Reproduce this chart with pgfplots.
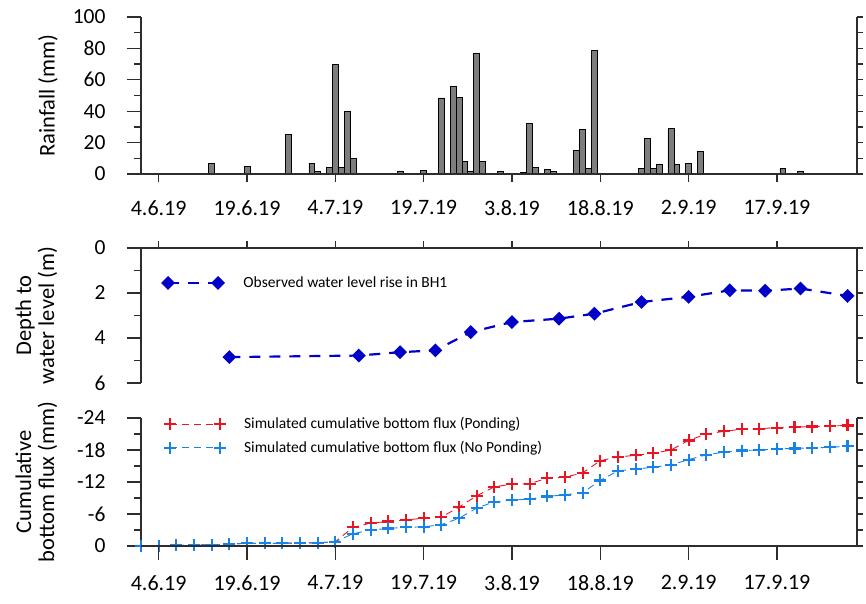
\documentclass[border=0pt]{standalone}
\usepackage{pgfplots}
\pgfplotsset{compat=1.18}
\usepackage{fontspec}
\setmainfont{Carlito}
\definecolor{axgray}{RGB}{45,45,45}
\definecolor{obsblue}{RGB}{0,0,200}
\definecolor{pondred}{RGB}{235,20,35}
\definecolor{npblue}{RGB}{25,130,230}
\definecolor{barfill}{RGB}{125,125,125}

\begin{document}
\begin{tikzpicture}
\useasboundingbox (-141pt,0pt) rectangle (725pt,-603pt);
\pgfplotsset{
  base/.style={scale only axis, width=716pt, xmin=-3, xmax=118.6,
    axis line style={axgray, line width=1.3pt},
    every tick/.style={axgray, line width=1.3pt},
    /pgf/number format/assume math mode=true,
    yticklabel style={font=\fontsize{21.5}{21.5}\selectfont, xshift=-18pt},
    xticklabel style={font=\fontsize{22}{22}\selectfont},
    ylabel style={font=\fontsize{22.5}{23}\selectfont, align=center, anchor=center},
    clip=false, anchor=north west},
  leftax/.style={base, axis y line*=left, tick align=outside,
    major tick length=14pt, minor tick length=7pt, xtick=\empty},
  xonly/.style={base, axis y line=none, tick align=outside, ytick=\empty,
    xtick={0,15,...,105},
    xticklabels={4.6.19,19.6.19,4.7.19,19.7.19,3.8.19,18.8.19,2.9.19,17.9.19}},
  rightax/.style={base, axis y line*=right, axis x line=none, tick align=outside,
    major tick length=6pt, yticklabels={}, xtick=\empty},
  legimg/.style={legend image code/.code={
    \draw[##1, mark repeat=1] plot coordinates {(0pt,0pt) (50pt,0pt)};}},
  frame/.style={axgray, line width=1.4pt, solid, mark=none, forget plot},
}
% ---------------- Top panel: rainfall ----------------
\begin{axis}[leftax, at={(0pt,-17pt)}, height=157pt, ymin=0, ymax=100,
  ytick={0,20,...,100}, minor ytick={10,30,...,90}, axis x line*=bottom,
  ylabel={Rainfall (mm)}, ylabel style={at={(axis description cs:-0.13,0.5)}}]
\addplot[ybar, bar width=1, fill=barfill, draw=black, line width=0.6pt] coordinates {
(9,7) (15,5) (22,25) (26,7) (27,1.5) (29,4) (30,70) (31,4) (32,40) (33,10)
(41,2) (45,2.5) (48,48.5) (50,56) (51,49) (52,8) (53,2) (54,77) (55,8)
(58,1.5) (62,1) (63,32) (64,4) (66,3) (67,1.5) (71,15) (72,28.5) (73,3.6) (74,78.5)
(82,3.6) (83,22.7) (84,3.6) (85,6) (87,29) (88,6) (90,6.8) (92,14.6)
(106,3.6) (109,2)};
\addplot[frame] coordinates {(-3,100) (-3,0) (118.6,0) (118.6,100)};
\end{axis}
\begin{axis}[xonly, at={(0pt,-17pt)}, height=157pt, ymin=0, ymax=100,
  axis x line*=bottom, major tick length=8pt, xticklabel style={yshift=-15pt}]
\end{axis}
\begin{axis}[rightax, at={(0pt,-17pt)}, height=157pt, ymin=0, ymax=100,
  ytick={0,10,...,100}]
\end{axis}
% ---------------- Middle panel: water level ----------------
\begin{axis}[leftax, at={(0pt,-248pt)}, height=135pt, ymin=0, ymax=6, y dir=reverse,
  ytick={0,2,4,6}, minor ytick={1,3,5}, axis x line*=top,
  ylabel={Depth to\\water level (m)}, ylabel style={at={(axis description cs:-0.146,0.5)}},
  legimg, legend cell align=left,
  legend style={at={(axis description cs:0.030,0.741)}, anchor=west, draw=none, fill=none,
    font=\fontsize{15.5}{18}\selectfont, inner sep=0pt,
    nodes={inner xsep=0pt}, /tikz/every odd column/.append style={column sep=20pt}}]
\addplot[frame] coordinates {(-3,6) (-3,0) (118.6,0) (118.6,6)};
\addplot[obsblue, line width=2.2pt, dash pattern=on 11pt off 9pt, mark=square*,
  mark size=3.8pt, mark options={solid, rotate=45}] coordinates {
(12,4.85) (34,4.78) (41,4.63) (47,4.55) (53,3.74) (60,3.29) (68,3.14) (74,2.92)
(82,2.40) (90,2.17) (97,1.88) (103,1.90) (109,1.80) (117,2.13)};
\addlegendentry{Observed water level rise in BH1}
\end{axis}
\begin{axis}[base, at={(0pt,-248pt)}, height=135pt, ymin=0, ymax=6,
  axis y line=none, axis x line*=top, tick align=outside, major tick length=7pt,
  ytick=\empty, xtick={0,15,...,105}, xticklabels={}]
\end{axis}
\begin{axis}[rightax, at={(0pt,-248pt)}, height=135pt, ymin=0, ymax=6, y dir=reverse,
  ytick={0,1,...,6}]
\end{axis}
% ---------------- Bottom panel: cumulative flux ----------------
\begin{axis}[leftax, at={(0pt,-418pt)}, height=128pt, ymin=-24, ymax=0, y dir=reverse,
  ytick={-24,-18,...,0}, minor ytick={-21,-15,-9,-3}, axis x line*=bottom,
  ylabel={Cumulative\\bottom flux (mm)}, ylabel style={at={(axis description cs:-0.146,0.5)}},
  legimg, legend cell align=left,
  legend style={at={(axis description cs:0.032,1.02)}, anchor=north west, draw=none, fill=none,
    font=\fontsize{15.5}{18}\selectfont, inner sep=0pt, row sep=7pt,
    nodes={inner xsep=0pt}, /tikz/every odd column/.append style={column sep=18pt}}]
\addplot[frame] coordinates {(-3,-24) (-3,0) (118.6,0) (118.6,-24)};
\addplot[pondred, line width=0.9pt, dash pattern=on 7pt off 5pt, mark=+, mark size=6pt,
  mark options={solid, line width=2.2pt}] coordinates {
(-3,0) (0,0) (3,-0.1) (6,-0.2) (9,-0.2) (12,-0.4) (15,-0.5) (18,-0.5) (21,-0.5) (24,-0.6)
(27,-0.6) (30,-0.8) (33,-3.5) (36,-4.3) (39,-4.6) (42,-4.9) (45,-5.2) (48,-5.4) (51,-7.3)
(54,-9.4) (57,-11.1) (60,-11.6) (63,-11.7) (66,-12.7) (69,-12.9) (72,-13.7) (75,-16.0)
(78,-16.7) (81,-17.0) (84,-17.4) (87,-18.0) (90,-19.8) (93,-21.0) (96,-21.5) (99,-21.9)
(102,-22.0) (105,-22.2) (108,-22.3) (111,-22.4) (114,-22.5) (117,-22.6)};
\addlegendentry{Simulated cumulative bottom flux (Ponding)}
\addplot[npblue, line width=0.9pt, dash pattern=on 7pt off 5pt, mark=+, mark size=6pt,
  mark options={solid, line width=2.2pt}] coordinates {
(-3,0) (0,0) (3,-0.1) (6,-0.2) (9,-0.2) (12,-0.4) (15,-0.5) (18,-0.5) (21,-0.5) (24,-0.6)
(27,-0.6) (30,-0.8) (33,-2.3) (36,-3.0) (39,-3.3) (42,-3.5) (45,-3.6) (48,-4.0) (51,-5.2)
(54,-7.1) (57,-8.3) (60,-8.6) (63,-8.8) (66,-9.3) (69,-9.6) (72,-10.0) (75,-12.3)
(78,-14.1) (81,-14.4) (84,-14.8) (87,-15.2) (90,-16.2) (93,-17.1) (96,-17.6) (99,-17.9)
(102,-18.0) (105,-18.2) (108,-18.3) (111,-18.4) (114,-18.5) (117,-18.7)};
\addlegendentry{Simulated cumulative bottom flux (No Ponding)}
\end{axis}
\begin{axis}[xonly, at={(0pt,-418pt)}, height=128pt, ymin=-24, ymax=0,
  axis x line*=bottom, major tick length=14pt, xticklabel style={yshift=-12pt}]
\end{axis}
\begin{axis}[rightax, at={(0pt,-418pt)}, height=128pt, ymin=-24, ymax=0, y dir=reverse,
  ytick={-24,-21,...,0}]
\end{axis}
\end{tikzpicture}
\end{document}
